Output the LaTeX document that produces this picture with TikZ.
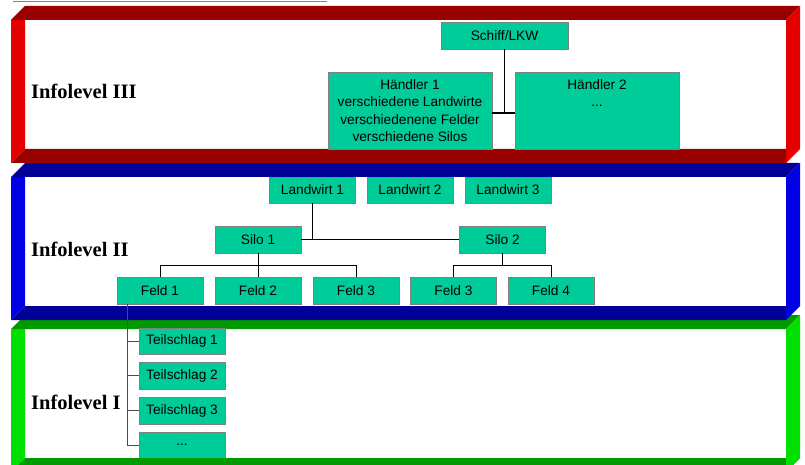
\documentclass[tikz,border=0pt]{standalone}
\usepackage{fontspec}
\setmainfont{Liberation Serif}
\newfontfamily\arialfont{Liberation Sans}
\definecolor{tealbox}{RGB}{0,204,153}
\definecolor{redDark}{RGB}{153,0,0}
\definecolor{redLight}{RGB}{228,0,0}
\definecolor{blueDark}{RGB}{0,0,153}
\definecolor{blueLight}{RGB}{0,0,228}
\definecolor{greenDark}{RGB}{0,153,0}
\definecolor{greenLight}{RGB}{0,224,0}
\newcommand\levelframe[3]{%
  \fill[#2] (11,#1+14) -- (25,#1) -- (800,#1) -- (786,#1+14) -- cycle;
  \fill[#2] (11,#1+157) -- (25,#1+143) -- (786,#1+143) -- (786,#1+157) -- cycle;
  \fill[#3] (11,#1+14) -- (25,#1+14) -- (25,#1+143) -- (11,#1+157) -- cycle;
  \fill[#3] (786,#1+14) -- (800,#1) -- (800,#1+143) -- (786,#1+157) -- cycle;
}
\tikzset{
  box/.style={draw=gray, line width=0.8pt, fill=tealbox, inner sep=0pt,
    minimum width=86pt, minimum height=27pt, align=center,
    font=\arialfont\fontsize{13.7}{17.5}\selectfont},
  lvl/.style={anchor=base west, inner sep=0pt, font=\fontsize{20.5}{24}\selectfont\bfseries},
  conn/.style={draw=black, line width=0.8pt},
  connb/.style={draw=black, line width=1.3pt},
  conng/.style={draw=black!70, line width=0.9pt},
}
\begin{document}
\begin{tikzpicture}[x=1pt,y=-1pt]
\useasboundingbox (0,0) rectangle (805,465);
\fill[white] (0,0) rectangle (805,465);
% top gray line
\draw[gray, line width=0.8pt] (13,1) -- (327,1);
% frames
\levelframe{315}{greenDark}{greenLight}
\levelframe{163}{blueDark}{blueLight}
\levelframe{6}{redDark}{redLight}
% labels
\node[lvl] (lab3) at (31,99) {Infolevel III};
\node[lvl] (lab2) at (31,256.5) {Infolevel II};
\node[lvl] (lab1) at (31,409) {Infolevel I};
% level III
\node[box, minimum width=127pt] (schiff) at (504.5,35.5) {Schiff/LKW};
\node[box, minimum width=164pt, minimum height=77pt] (h1) at (410,110.5)
  {Händler 1\\verschiedene Landwirte\\verschiedenene Felder\\verschiedene Silos};
\node[box, minimum width=164pt, minimum height=77pt] (h2) at (597,110.5)
  {Händler 2\\...\\~\\~};
\coordinate (j3) at (504.5,113);
\draw[connb] (schiff.south) -- (j3);
\draw[connb] (h1.east |- j3) -- (h2.west |- j3);
% level II
\node[box, minimum height=26pt] (l1) at (312.5,190) {Landwirt 1};
\node[box, minimum height=26pt] (l2) at (410,190) {Landwirt 2};
\node[box, minimum height=26pt] (l3) at (508,190) {Landwirt 3};
\node[box] (s1) at (258,239.5) {Silo 1};
\node[box] (s2) at (502.5,239.5) {Silo 2};
\node[box] (f1) at (160,290.5) {Feld 1};
\node[box] (f2) at (258,290.5) {Feld 2};
\node[box] (f3) at (356,290.5) {Feld 3};
\node[box] (f3b) at (453.5,290.5) {Feld 3};
\node[box] (f4) at (551,290.5) {Feld 4};
\draw[conn] (l1.south) -- (l1.south |- s1.east);
\draw[conn] (s1.east) -- (s2.west);
\coordinate (ja) at (258,265);
\draw[conn] (s1.south) -- (ja);
\draw[conn] (f1.north) -- (f1.north |- ja) -- (f3.north |- ja) -- (f3.north);
\draw[conn] (f2.north) -- (f2.north |- ja);
\coordinate (jb) at (502.5,265);
\draw[conn] (s2.south) -- (jb);
\draw[conn] (f3b.north) -- (f3b.north |- jb) -- (f4.north |- jb) -- (f4.north);
% level I
\node[box, minimum height=26pt] (t1) at (182,341) {Teilschlag 1};
\node[box] (t2) at (182,375.5) {Teilschlag 2};
\node[box] (t3) at (182,410.5) {Teilschlag 3};
\node[box, minimum height=26pt] (t4) at (182,445) {...};
\coordinate (tv) at (127.5,304);
\draw[conng] (tv) -- (tv |- t4.west) -- (t4.west);
\draw[conng] (tv |- t1.west) -- (t1.west);
\draw[conng] (tv |- t2.west) -- (t2.west);
\draw[conng] (tv |- t3.west) -- (t3.west);
% redraw green bottom bar over the last box
\fill[greenDark] (11,472) -- (25,458) -- (786,458) -- (786,472) -- cycle;
\fill[greenLight] (11,458) -- (25,458) -- (11,472) -- cycle;
\fill[greenLight] (786,458) -- (800,458) -- (800,458) -- (786,472) -- cycle;
\end{tikzpicture}
\end{document}
